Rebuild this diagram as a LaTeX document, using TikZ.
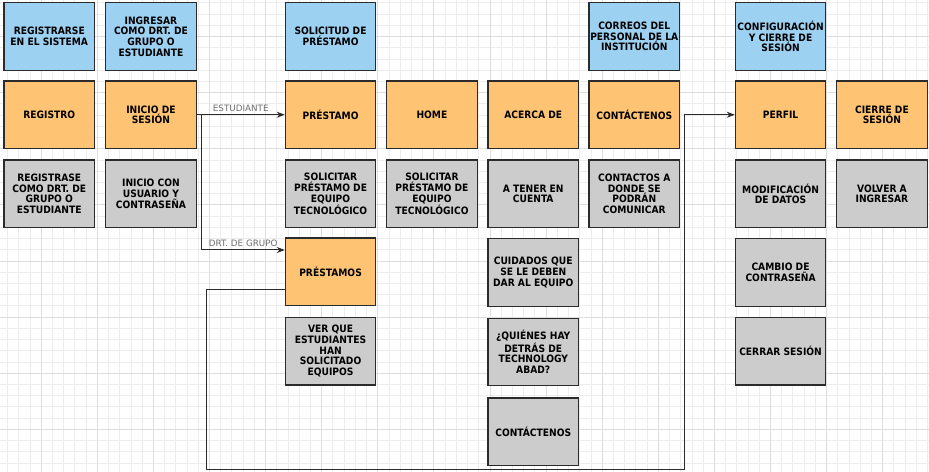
\documentclass[tikz,border=0pt]{standalone}
\usepackage{fontspec}
\setmainfont{DejaVu Sans}
\newfontfamily\cardfont{DejaVu Sans Condensed}
\usetikzlibrary{arrows.meta,calc}
\definecolor{bluebox}{HTML}{9DD1F2}
\definecolor{orangebox}{HTML}{FFC473}
\definecolor{graybox}{HTML}{CCCCCC}
\definecolor{boxline}{HTML}{2B2B2B}
\definecolor{gridminor}{HTML}{EDEDED}
\definecolor{gridmajor}{HTML}{DEDEDE}
\definecolor{labelgray}{HTML}{6E6E6E}
\tikzset{
  card/.style={draw=boxline, line width=1.1bp, minimum width=90.5bp, minimum height=67.5bp,
    align=center, inner sep=1bp, font=\cardfont\fontsize{10.2}{10.7}\selectfont\bfseries},
  bluecard/.style={card, fill=bluebox},
  orangecard/.style={card, fill=orangebox},
  graycard/.style={card, fill=graybox},
  link/.style={draw=boxline, line width=1bp, -{Stealth[length=8bp,width=6bp]}},
  linklabel/.style={text=labelgray, font=\fontsize{8.8}{10}\selectfont, inner sep=1bp}
}
\begin{document}
\begin{tikzpicture}[x=1bp,y=-1bp]
\useasboundingbox (0,0) rectangle (929,472);
\fill[white] (0,0) rectangle (929,472);
% grid
\begin{scope}
\clip (0,0) rectangle (929,472);
\foreach \k in {0,...,82} \draw[gridminor, line width=0.9bp] ({7.54+11.22*\k},0) -- ++(0,472);
\foreach \k in {0,...,41} \draw[gridminor, line width=0.9bp] (0,{2.94+11.22*\k}) -- ++(929,0);
\foreach \k in {0,...,15} \draw[gridmajor, line width=0.9bp] ({41.2+56.1*\k},0) -- ++(0,472);
\foreach \k in {0,...,7} \draw[gridmajor, line width=0.9bp] (0,{36.6+56.1*\k}) -- ++(929,0);
\end{scope}
% columns: 4, 105.7, 285.3, 386.7, 488, 589, 735.3, 836.7 (+45.25)
% rows: 2.7, 81, 160, 238, 318, 398 (+33.75)
% row 1
\node[bluecard] (b1) at (49.25,36.45) {REGISTRARSE\\EN EL SISTEMA};
\node[bluecard] (b2) at (150.95,36.45) {INGRESAR\\COMO DRT. DE\\GRUPO O\\ESTUDIANTE};
\node[bluecard] (b3) at (330.55,36.45) {SOLICITUD DE\\PRÉSTAMO};
\node[bluecard] (b6) at (634.25,36.45) {CORREOS DEL\\PERSONAL DE LA\\INSTITUCIÓN};
\node[bluecard] (b7) at (780.55,36.45) {CONFIGURACIÓN\\Y CIERRE DE\\SESIÓN};
% row 2
\node[orangecard] (reg) at (49.25,114.75) {REGISTRO};
\node[orangecard] (ini) at (150.95,114.75) {INICIO DE\\SESIÓN};
\node[orangecard] (pre) at (330.55,114.75) {PRÉSTAMO};
\node[orangecard] (home) at (431.95,114.75) {HOME};
\node[orangecard] (acer) at (533.25,114.75) {ACERCA DE};
\node[orangecard] (cont) at (634.25,114.75) {CONTÁCTENOS};
\node[orangecard] (per) at (780.55,114.75) {PERFIL};
\node[orangecard] (cie) at (881.95,114.75) {CIERRE DE\\SESIÓN};
% row 3
\node[graycard] (g1) at (49.25,193.75) {REGISTRASE\\COMO DRT. DE\\GRUPO O\\ESTUDIANTE};
\node[graycard] (g2) at (150.95,193.75) {INICIO CON\\USUARIO Y\\CONTRASEÑA};
\node[graycard] (g3) at (330.55,193.75) {SOLICITAR\\PRÉSTAMO DE\\EQUIPO\\TECNOLÓGICO};
\node[graycard] (g4) at (431.95,193.75) {SOLICITAR\\PRÉSTAMO DE\\EQUIPO\\TECNOLÓGICO};
\node[graycard] (g5) at (533.25,193.75) {A TENER EN\\CUENTA};
\node[graycard] (g6) at (634.25,193.75) {CONTACTOS A\\DONDE SE\\PODRÁN\\COMUNICAR};
\node[graycard] (g7) at (780.55,193.75) {MODIFICACIÓN\\DE DATOS};
\node[graycard] (g8) at (881.95,193.75) {VOLVER A\\INGRESAR};
% row 4
\node[orangecard] (prs) at (330.55,271.75) {PRÉSTAMOS};
\node[graycard] (cui) at (533.25,272.5) {CUIDADOS QUE\\SE LE DEBEN\\DAR AL EQUIPO};
\node[graycard] (cam) at (780.55,272.5) {CAMBIO DE\\CONTRASEÑA};
% row 5
\node[graycard] (ver) at (330.55,351.2) {VER QUE\\ESTUDIANTES\\HAN\\SOLICITADO\\EQUIPOS};
\node[graycard] (qui) at (533.25,352) {¿QUIÉNES HAY\\DETRÁS DE\\TECHNOLOGY\\ABAD?};
\node[graycard] (cer) at (780.55,351.2) {CERRAR SESIÓN};
% row 6
\node[graycard] (con2) at (533.25,431.8) {CONTÁCTENOS};
% connectors
\coordinate (split) at (201.7,114.75);
\coordinate (loopA) at (206.3,469);
\coordinate (loopB) at (684.3,469);
\draw[link] (ini.east) -- node[linklabel, above=2bp] {ESTUDIANTE} (pre.west);
\draw[link] (split) |- node[linklabel, pos=0.75, above=2bp] {DRT. DE GRUPO} ([yshift=21.75bp]prs.west);
\draw[link] ([yshift=-18.25bp]prs.west) -| (loopA) -- (loopB) |- (per.west);
\end{tikzpicture}
\end{document}
